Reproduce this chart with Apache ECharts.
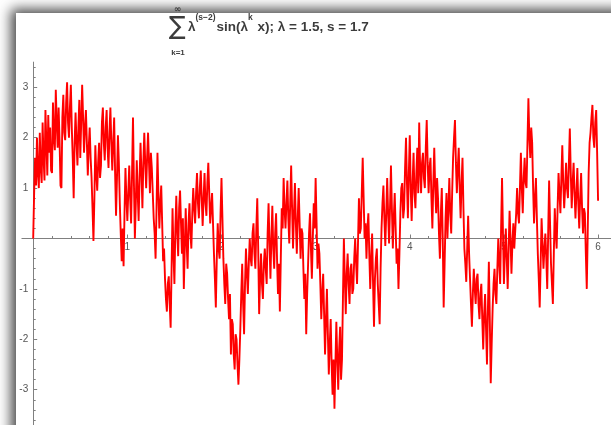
<!DOCTYPE html>
<html><head><meta charset="utf-8">
<script src="https://cdn.jsdelivr.net/npm/echarts@6/dist/echarts.min.js"></script>
<style>
html,body{margin:0;padding:0;width:611px;height:425px;overflow:hidden;background:#fff;}
#panel{position:absolute;left:16px;top:13px;width:700px;height:500px;background:#fff;box-shadow:-3px -2px 12px 2px rgba(0,0,0,0.72);}
#chart{position:absolute;left:0;top:0;width:611px;height:460px;}
</style></head><body><div id="panel"></div><div id="chart"></div>
<script>
const xs = [
0,0.01,0.02,0.03,0.04,0.05,0.06,0.07,0.08,0.09,0.1,0.11,0.12,0.13,0.14,0.15,0.16,0.17,0.18,0.19,0.2,0.21,0.22,0.23,0.24,0.25,0.26,0.27,0.28,0.29,0.3,0.31,0.32,0.33,0.34,0.35,0.36,0.37,0.38,0.39,0.4,0.41,0.42,0.43,0.44,0.45,0.46,0.47,0.48,0.49,0.5,0.51,0.52,0.53,0.54,0.55,0.56,0.57,0.58,0.59,0.6,0.61,0.62,0.63,0.64,0.65,0.66,0.67,0.68,0.69,0.7,0.71,0.72,0.73,0.74,0.75,0.76,0.77,0.78,0.79,0.8,0.81,0.82,0.83,0.84,0.85,0.86,0.87,0.88,0.89,0.9,0.91,0.92,0.93,0.94,0.95,0.96,0.97,0.98,0.99,
1,1.01,1.02,1.03,1.04,1.05,1.06,1.07,1.08,1.09,1.1,1.11,1.12,1.13,1.14,1.15,1.16,1.17,1.18,1.19,1.2,1.21,1.22,1.23,1.24,1.25,1.26,1.27,1.28,1.29,1.3,1.31,1.32,1.33,1.34,1.35,1.36,1.37,1.38,1.39,1.4,1.41,1.42,1.43,1.44,1.45,1.46,1.47,1.48,1.49,1.5,1.51,1.52,1.53,1.54,1.55,1.56,1.57,1.58,1.59,1.6,1.61,1.62,1.63,1.64,1.65,1.66,1.67,1.68,1.69,1.7,1.71,1.72,1.73,1.74,1.75,1.76,1.77,1.78,1.79,1.8,1.81,1.82,1.83,1.84,1.85,1.86,1.87,1.88,1.89,1.9,1.91,1.92,1.93,1.94,1.95,1.96,1.97,1.98,1.99,
2,2.01,2.02,2.03,2.04,2.05,2.06,2.07,2.08,2.09,2.1,2.11,2.12,2.13,2.14,2.15,2.16,2.17,2.18,2.19,2.2,2.21,2.22,2.23,2.24,2.25,2.26,2.27,2.28,2.29,2.3,2.31,2.32,2.33,2.34,2.35,2.36,2.37,2.38,2.39,2.4,2.41,2.42,2.43,2.44,2.45,2.46,2.47,2.48,2.49,2.5,2.51,2.52,2.53,2.54,2.55,2.56,2.57,2.58,2.59,2.6,2.61,2.62,2.63,2.64,2.65,2.66,2.67,2.68,2.69,2.7,2.71,2.72,2.73,2.74,2.75,2.76,2.77,2.78,2.79,2.8,2.81,2.82,2.83,2.84,2.85,2.86,2.87,2.88,2.89,2.9,2.91,2.92,2.93,2.94,2.95,2.96,2.97,2.98,2.99,
3,3.01,3.02,3.03,3.04,3.05,3.06,3.07,3.08,3.09,3.1,3.11,3.12,3.13,3.14,3.15,3.16,3.17,3.18,3.19,3.2,3.21,3.22,3.23,3.24,3.25,3.26,3.27,3.28,3.29,3.3,3.31,3.32,3.33,3.34,3.35,3.36,3.37,3.38,3.39,3.4,3.41,3.42,3.43,3.44,3.45,3.46,3.47,3.48,3.49,3.5,3.51,3.52,3.53,3.54,3.55,3.56,3.57,3.58,3.59,3.6,3.61,3.62,3.63,3.64,3.65,3.66,3.67,3.68,3.69,3.7,3.71,3.72,3.73,3.74,3.75,3.76,3.77,3.78,3.79,3.8,3.81,3.82,3.83,3.84,3.85,3.86,3.87,3.88,3.89,3.9,3.91,3.92,3.93,3.94,3.95,3.96,3.97,3.98,3.99,
4,4.01,4.02,4.03,4.04,4.05,4.06,4.07,4.08,4.09,4.1,4.11,4.12,4.13,4.14,4.15,4.16,4.17,4.18,4.19,4.2,4.21,4.22,4.23,4.24,4.25,4.26,4.27,4.28,4.29,4.3,4.31,4.32,4.33,4.34,4.35,4.36,4.37,4.38,4.39,4.4,4.41,4.42,4.43,4.44,4.45,4.46,4.47,4.48,4.49,4.5,4.51,4.52,4.53,4.54,4.55,4.56,4.57,4.58,4.59,4.6,4.61,4.62,4.63,4.64,4.65,4.66,4.67,4.68,4.69,4.7,4.71,4.72,4.73,4.74,4.75,4.76,4.77,4.78,4.79,4.8,4.81,4.82,4.83,4.84,4.85,4.86,4.87,4.88,4.89,4.9,4.91,4.92,4.93,4.94,4.95,4.96,4.97,4.98,4.99,
5,5.01,5.02,5.03,5.04,5.05,5.06,5.07,5.08,5.09,5.1,5.11,5.12,5.13,5.14,5.15,5.16,5.17,5.18,5.19,5.2,5.21,5.22,5.23,5.24,5.25,5.26,5.27,5.28,5.29,5.3,5.31,5.32,5.33,5.34,5.35,5.36,5.37,5.38,5.39,5.4,5.41,5.42,5.43,5.44,5.45,5.46,5.47,5.48,5.49,5.5,5.51,5.52,5.53,5.54,5.55,5.56,5.57,5.58,5.59,5.6,5.61,5.62,5.63,5.64,5.65,5.66,5.67,5.68,5.69,5.7,5.71,5.72,5.73,5.74,5.75,5.76,5.77,5.78,5.79,5.8,5.81,5.82,5.83,5.84,5.85,5.86,5.87,5.88,5.89,5.9,5.91,5.92,5.93,5.94,5.95,5.96,5.97,5.98,5.99,
6];
const ys = [
0.00,0.9,1.6,1.05,2.0,1.3,1.0,2.1,1.4,1.1,
2.3,1.6,1.15,2.55,1.9,1.25,2.45,1.7,2.2,1.35,
1.30,2.7,2.0,1.75,2.95,2.3,1.8,2.6,1.95,1.05,
1.00,2.4,2.85,2.1,1.95,2.7,3.1,2.3,2.0,2.6,
3.05,2.2,1.6,0.80,1.9,2.5,1.9,1.45,2.2,2.75,
1.60,2.3,3.05,2.4,1.70,2.2,2.55,1.9,1.25,1.8,
2.20,1.6,1.20,0.6,-0.05,0.8,1.85,1.3,0.95,1.5,
1.90,1.2,1.45,2.3,2.60,1.9,1.55,2.2,2.55,1.8,
1.40,2.1,2.60,1.9,1.35,1.9,2.40,1.3,0.45,1.2,
2.05,1.5,0.70,0.1,-0.45,0.2,-0.55,0.5,1.40,0.8,
0.35,0.9,1.45,0.8,0.30,1.3,2.40,1.1,0.00,0.7,
1.55,0.9,0.35,1.2,1.90,1.3,0.60,1.5,2.10,1.5,
1.00,1.6,2.10,1.5,0.90,1.7,1.40,0.9,0.40,0.1,
-0.40,0.6,1.70,0.9,0.20,0.7,1.05,0.3,-0.45,-0.2,
-0.80,-1.2,-1.45,-0.9,-0.75,-1.3,-1.77,-0.6,0.60,-0.3,
-0.90,0.2,0.85,0.1,-0.35,0.6,0.95,0.3,-0.30,0.4,
-1.00,-0.2,0.60,-0.1,-0.60,0.3,0.70,0.1,-0.20,0.5,
1.00,0.6,0.30,0.9,1.30,0.7,0.40,1.0,1.35,0.8,
0.25,0.8,1.30,0.7,0.45,1.1,1.50,0.9,0.30,0.6,
0.90,0.3,-0.30,-0.8,-1.37,-0.4,0.30,-0.2,-0.40,0.5,
1.20,0.4,-0.40,-0.9,-1.30,-0.5,-0.70,-1.2,-1.60,-1.1,
-2.30,-1.6,-1.70,-2.3,-2.60,-1.9,-2.00,-2.5,-2.90,-2.4,
-1.80,-1.1,-0.50,-1.3,-1.90,-0.9,-0.20,-0.7,-1.10,-0.5,
0.00,-0.4,-0.55,0.1,0.30,-0.3,-0.60,0.2,0.80,-0.2,
-1.50,-0.8,-0.30,-0.9,-1.20,-0.5,-0.20,-0.6,-0.90,0.1,
0.70,-0.1,-0.80,0.0,0.65,-0.2,-0.60,0.1,0.50,-0.4,
-1.10,-0.5,-1.45,-0.4,0.60,0.2,1.20,0.6,0.20,0.7,
1.15,0.4,-0.10,0.7,1.45,0.6,-0.20,0.5,1.10,0.3,
-0.30,0.4,1.00,0.3,-0.40,0.2,0.10,-0.6,-1.20,-0.7,
-1.90,-1.1,-0.50,0.1,0.50,-0.2,-0.80,0.0,0.70,0.2,
1.20,0.3,-0.60,-0.1,-0.30,-0.9,-1.60,-1.1,-0.70,-1.5,
-2.30,-1.6,-1.00,-1.9,-2.70,-2.1,-1.60,-2.5,-3.10,-2.4,
-3.38,-2.5,-1.65,-2.4,-3.00,-2.2,-1.75,-2.8,-2.40,-1.2,
0.00,-0.8,-1.50,-0.7,-0.30,-0.9,-1.30,-0.6,-0.50,-1.1,
-1.00,-0.4,0.00,-0.5,-0.90,-0.1,0.80,0.1,0.20,0.9,
1.60,0.8,0.00,0.3,-0.40,0.2,0.50,-0.3,-1.00,-0.4,
0.10,-0.9,-1.75,-0.8,-0.40,-0.2,-0.90,-1.3,-1.70,-0.6,
0.20,0.7,1.05,0.4,-0.15,0.5,1.20,0.5,-0.10,0.6,
1.45,0.6,-0.20,0.4,0.90,0.2,-0.50,-0.2,-1.00,-0.3,
0.50,1.0,1.10,0.4,0.60,1.4,2.00,1.1,0.40,1.3,
2.05,1.0,0.35,1.1,1.70,0.9,0.60,1.3,1.80,0.9,
2.30,1.4,0.90,1.5,1.70,1.2,1.00,1.8,2.35,1.5,
0.90,1.4,1.60,0.8,0.20,1.1,1.80,1.0,0.50,1.2,
0.80,0.1,-0.40,0.5,1.00,0.0,-1.37,-0.5,0.40,0.9,
0.00,0.6,1.20,0.5,0.10,0.9,1.60,2.0,2.35,1.5,
0.90,1.4,1.80,1.0,0.40,1.1,1.60,0.6,-0.20,-0.5,
-0.86,-0.2,0.45,-0.3,-0.80,-1.3,-1.75,-1.1,-0.60,-1.0,
-1.30,-0.8,-0.70,-1.3,-1.60,-1.1,-0.90,-1.6,-2.20,-1.5,
-1.10,-1.8,-2.50,-1.4,-0.46,-1.6,-2.87,-2.1,-1.40,-0.9,
-0.60,-1.1,-1.30,-0.6,0.00,-0.5,-0.90,0.2,1.20,0.1,
-0.90,-0.3,0.20,-0.4,-1.00,-0.2,0.55,0.0,-0.70,-0.1,
0.30,-0.2,-0.20,0.5,1.00,0.5,0.30,1.0,1.70,1.0,
0.50,1.2,1.60,1.1,1.00,1.9,2.78,2.0,1.60,2.2,
1.90,1.0,0.30,0.8,1.20,0.4,-0.30,-0.8,-1.37,-0.5,
0.40,-0.1,-0.60,-0.2,0.10,-0.4,-1.00,0.1,1.15,0.3,
-0.50,-0.9,-1.30,-0.3,0.60,0.1,-0.20,0.6,1.30,0.9,
0.50,1.2,1.85,1.1,0.60,1.0,1.50,1.0,0.80,1.5,
2.18,1.3,0.60,1.1,1.50,0.9,0.40,0.9,1.40,0.7,
0.20,0.8,1.30,0.6,0.10,0.6,0.50,-0.3,-1.00,0.1,
1.30,1.9,2.10,2.4,2.65,2.0,1.80,2.3,2.55,1.7,
0.75];
const xMajorTicks = [1,2,3,4,5,6];
const xMinorTicks = [0.2,0.4,0.6,0.8,1.2,1.4,1.6,1.8,2.2,2.4,2.6,2.8,3.2,3.4,3.6,3.8,4.2,4.4,4.6,4.8,5.2,5.4,5.6,5.8];
const yMajorTicks = [-3,-2,-1,1,2,3];
const yMinorTicks = [-3.8,-3.6,-3.4,-3.2,-2.8,-2.6,-2.4,-2.2,-1.8,-1.6,-1.4,-1.2,-0.8,-0.6,-0.4,-0.2,0.2,0.4,0.6,0.8,1.2,1.4,1.6,1.8,2.2,2.4,2.6,2.8,3.2,3.4];
const titleParts = [
  {t:'λ', sup:false},
  {t:'(s−2)', sup:true},
  {t:'sin(λ', sup:false},
  {t:'k', sup:true},
  {t:' x); λ = 1.5, s = 1.7', sup:false}
];

const chart = echarts.init(document.getElementById('chart'), null, {renderer:'canvas'});
const data = xs.map((x,i)=>[x, ys[i]]);
const axisColor = '#808080';
const labelColor = '#555';
const mainFont = 'bold 13.5px "Liberation Sans", Arial, sans-serif';
const supFont = 'bold 8.5px "Liberation Sans", Arial, sans-serif';
const cv = document.createElement('canvas').getContext('2d');
let cx = 188;
const titleEls = [];
titleParts.forEach(p => {
  cv.font = p.sup ? supFont : mainFont;
  titleEls.push({type:'text', silent:true, style:{text:p.t, x:cx, y:p.sup?18:27, font:p.sup?supFont:mainFont, fill:'#3c3c3c', verticalAlign:'middle', align:'left'}});
  cx += cv.measureText(p.t).width + (p.sup?1:0);
});
titleEls.push({type:'text', silent:true, style:{text:'∞', x:177.5, y:10, font:'bold 9px "DejaVu Sans", sans-serif', fill:'#3c3c3c', align:'center', verticalAlign:'middle'}});
titleEls.push({type:'text', silent:true, style:{text:'∑', x:177.5, y:27, font:'25px "DejaVu Sans", sans-serif', fill:'#3c3c3c', align:'center', verticalAlign:'middle'}});
titleEls.push({type:'text', silent:true, style:{text:'k=1', x:178, y:53, font:'bold 8px "Liberation Sans", sans-serif', fill:'#3c3c3c', align:'center', verticalAlign:'middle'}});

// grid: x in [-0.12, 6.2] -> px 21.9..616.9 ; y in [-4, 3.5] -> px 440.1..62.1
const gridLeft = 21.9, gridTop = 62.1, gridW = 595, gridH = 378;
const xMin = -0.12, xMax = 6.2, yMin = -4, yMax = 3.5;
const yZeroPx = gridTop + gridH * (yMax - 0) / (yMax - yMin);
const xZeroPx = gridLeft + gridW * (0 - xMin) / (xMax - xMin);
const xOff = -((gridTop + gridH) - yZeroPx);
const yOff = -(xZeroPx - gridLeft);

const common = {type:'value', splitLine:{show:false}};
chart.setOption({
  animation:false,
  backgroundColor:'transparent',
  grid:{left:gridLeft, top:gridTop, width:gridW, height:gridH, containLabel:false, outerBoundsMode:'none'},
  graphic: titleEls,
  xAxis:[
    Object.assign({}, common, {min:xMin, max:xMax, position:'bottom', offset:xOff,
      axisLine:{show:true, onZero:false, lineStyle:{color:axisColor, width:1}},
      axisTick:{show:true, inside:true, length:4, customValues:xMajorTicks, lineStyle:{color:axisColor}},
      axisLabel:{show:true, customValues:xMajorTicks, color:labelColor, fontSize:10, margin:4, fontFamily:'"Liberation Sans", Arial, sans-serif'}}),
    Object.assign({}, common, {min:xMin, max:xMax, position:'bottom', offset:xOff,
      axisLine:{show:false, onZero:false},
      axisTick:{show:true, inside:true, length:2.5, customValues:xMinorTicks, lineStyle:{color:axisColor}},
      axisLabel:{show:false}})
  ],
  yAxis:[
    Object.assign({}, common, {min:yMin, max:yMax, position:'left', offset:yOff,
      axisLine:{show:true, onZero:false, lineStyle:{color:axisColor, width:1}},
      axisTick:{show:true, inside:true, length:4, customValues:yMajorTicks, lineStyle:{color:axisColor}},
      axisLabel:{show:true, customValues:yMajorTicks, color:labelColor, fontSize:10, margin:5, fontFamily:'"Liberation Sans", Arial, sans-serif'}}),
    Object.assign({}, common, {min:yMin, max:yMax, position:'left', offset:yOff,
      axisLine:{show:false, onZero:false},
      axisTick:{show:true, inside:true, length:2.5, customValues:yMinorTicks, lineStyle:{color:axisColor}},
      axisLabel:{show:false}})
  ],
  series:[{
    type:'line', xAxisIndex:0, yAxisIndex:0, data:data, showSymbol:false, symbol:'none',
    lineStyle:{color:'#ff0000', width:1.9}, z:1
  }]
});
</script></body></html>
